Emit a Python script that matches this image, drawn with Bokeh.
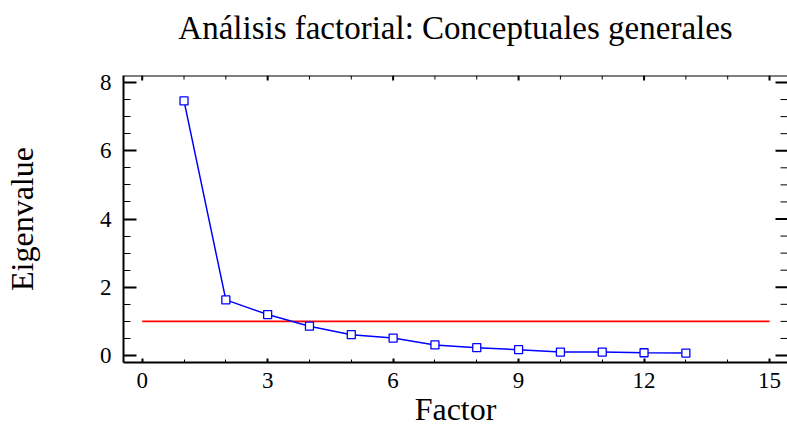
from bokeh.plotting import figure
from bokeh.models import SingleIntervalTicker, Range1d, Span
from bokeh.embed import file_html
from bokeh.resources import INLINE

# ---- data ----
title_text = "Análisis factorial: Conceptuales generales"
x_label = "Factor"
y_label = "Eigenvalue"
factors = [1, 2, 3, 4, 5, 6, 7, 8, 9, 10, 11, 12, 13]
eigenvalues = [7.46, 1.63, 1.20, 0.86, 0.61, 0.51, 0.31, 0.23, 0.17, 0.10, 0.10, 0.08, 0.07]
threshold_x = [0, 15]
threshold_y = [1.0, 1.0]
x_major_ticks = [0, 3, 6, 9, 12, 15]
x_minor_ticks = [1, 2, 4, 5, 7, 8, 10, 11, 13, 14]
y_major_ticks = [0, 2, 4, 6, 8]
y_minor_ticks = [0.5, 1, 1.5, 2.5, 3, 3.5, 4.5, 5, 5.5, 6.5, 7, 7.5]

FONT = "Liberation Serif"
X0, X1 = -0.447, 15.43
Y0, Y1 = -0.205, 8.205
FRAME_W, FRAME_H = 664, 287
PX_X = (X1 - X0) / FRAME_W   # one screen pixel in x data units
PX_Y = (Y1 - Y0) / FRAME_H   # one screen pixel in y data units

p = figure(width=787, height=434,
           x_range=Range1d(X0, X1), y_range=Range1d(Y0, Y1),
           output_backend="svg", toolbar_location=None,
           min_border_left=123, min_border_right=0,
           min_border_top=75, min_border_bottom=72)

p.title.text = title_text
p.title.text_font = FONT
p.title.text_font_size = "33px"
p.title.text_font_style = "normal"
p.title.align = "center"
p.title.vertical_align = "top"
p.title.text_color = "black"
p.title.standoff = 0
try:
    p.title.padding = dict(left=0, right=0, top=0, bottom=28)
except Exception:
    p.title.standoff = 38

p.grid.visible = False
p.outline_line_color = None
p.background_fill_color = "white"
p.border_fill_color = "white"

xt = SingleIntervalTicker(interval=3, num_minor_ticks=3)
yt = SingleIntervalTicker(interval=2, num_minor_ticks=4)

def style_axis(ax, maj_in, min_in, standoff):
    ax.axis_line_width = 2
    ax.axis_line_color = "black"
    ax.major_tick_in = maj_in
    ax.major_tick_out = 0
    ax.minor_tick_in = min_in
    ax.minor_tick_out = 0
    ax.major_tick_line_width = 2
    ax.minor_tick_line_width = 1
    ax.major_tick_line_color = "black"
    ax.minor_tick_line_color = "black"
    ax.major_label_text_font = FONT
    ax.major_label_text_font_size = "23px"
    ax.major_label_text_color = "black"
    ax.major_label_standoff = standoff
    ax.axis_label_text_font = FONT
    ax.axis_label_text_font_size = "32px"
    ax.axis_label_text_font_style = "normal"
    ax.axis_label_text_color = "black"

xa = p.xaxis[0]
xa.ticker = xt
style_axis(xa, 4, 3, 10)
xa.axis_label = x_label
xa.axis_label_standoff = 0

ya = p.yaxis[0]
ya.ticker = yt
style_axis(ya, 13, 7, 12)
ya.axis_label = y_label
ya.axis_label_standoff = 57

# top edge of the frame
p.add_layout(Span(location=Y1, dimension="width", line_color="black", line_width=2))

# inner ticks on the right and top edges of the frame
def right_ticks(vals, length_px, width):
    p.segment(x0=[X1 - length_px * PX_X] * len(vals), y0=vals,
              x1=[X1] * len(vals), y1=vals, line_color="black", line_width=width)

def top_ticks(vals, length_px, width):
    p.segment(x0=vals, y0=[Y1 - length_px * PX_Y] * len(vals),
              x1=vals, y1=[Y1] * len(vals), line_color="black", line_width=width)

right_ticks(y_major_ticks, 12, 2)
right_ticks(y_minor_ticks, 7, 1)
top_ticks(x_major_ticks, 5, 2)
top_ticks(x_minor_ticks, 4, 1)

p.line(threshold_x, threshold_y, line_color="#FF0000", line_width=1.6)
p.line(factors, eigenvalues, line_color="#0000FF", line_width=1.5)
p.scatter(factors, eigenvalues, marker="square", size=8, fill_color="white",
          line_color="#0000FF", line_width=1.3)

open("out.html", "w").write(file_html(p, INLINE))
